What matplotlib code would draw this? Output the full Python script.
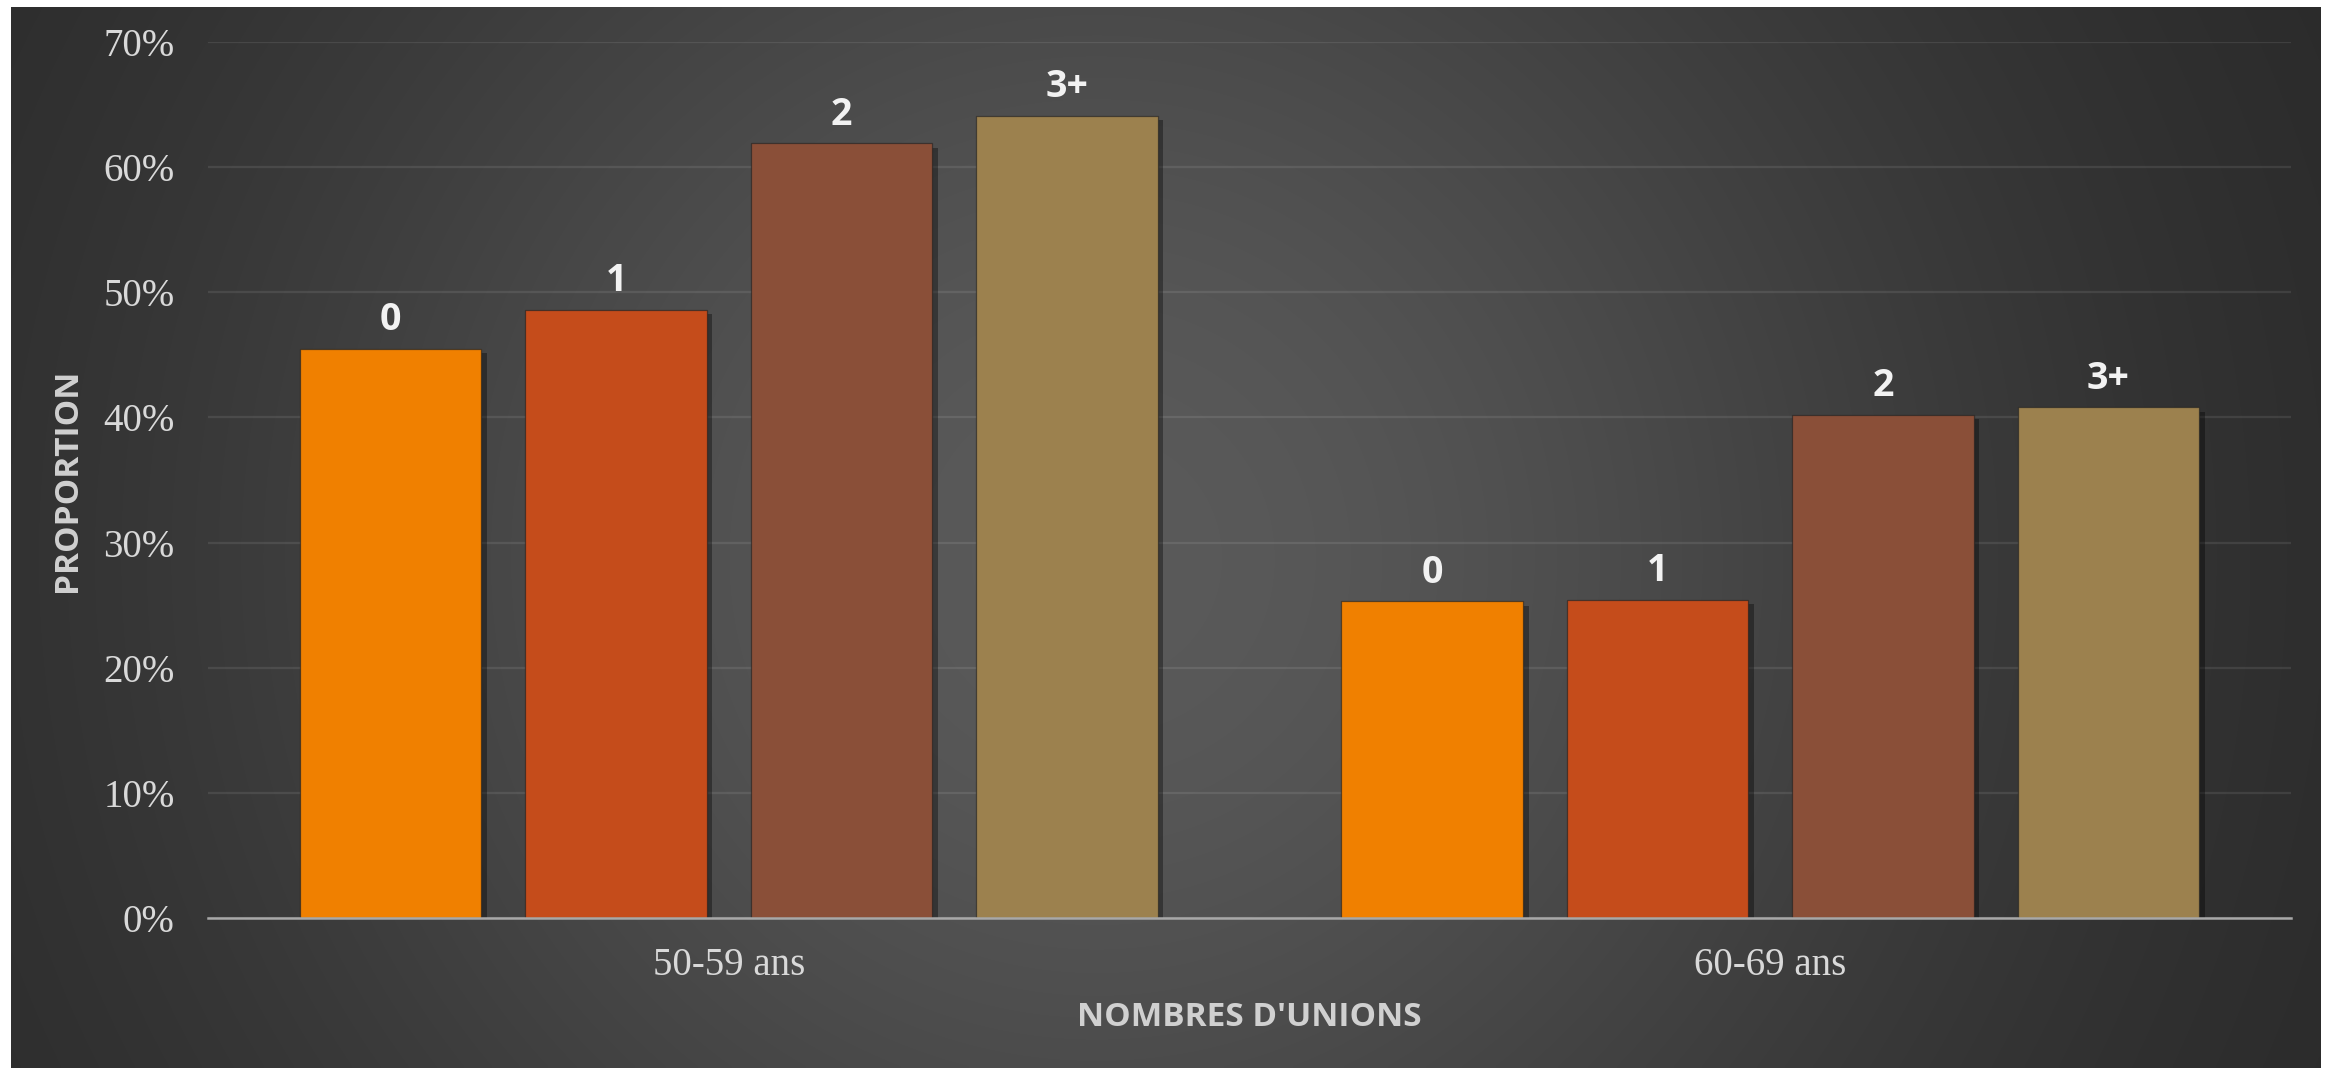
import numpy as np
import matplotlib
matplotlib.use("Agg")
import matplotlib.pyplot as plt
import matplotlib.patheffects as pe

# ---- data ----
age_groups = ["50-59 ans", "60-69 ans"]
union_labels = ["0", "1", "2", "3+"]
values_5059 = [45.5, 48.6, 61.9, 64.1]
values_6069 = [25.3, 25.4, 40.2, 40.8]
y_ticks = [0, 10, 20, 30, 40, 50, 60, 70]
y_tick_labels = ["0%", "10%", "20%", "30%", "40%", "50%", "60%", "70%"]
bar_colors = ["#F08000", "#C54C1B", "#8A4F38", "#9C814E"]

W, H = 2333, 1068
fig = plt.figure(figsize=(W / 100, H / 100), dpi=100, facecolor="white")

# ---- background panel with radial gradient ----
bx0, bx1, by_top = 11, 2321, 7
bg = fig.add_axes([bx0 / W, 0, (bx1 - bx0) / W, (H - by_top) / H], zorder=0)
nx, ny = 600, 280
xx, yy = np.meshgrid(np.linspace(0, bx1 - bx0, nx), np.linspace(0, H - by_top, ny))
cx, cy = (bx1 - bx0) * 0.47, (H - by_top) * 0.52
d = np.sqrt((xx - cx) ** 2 + (yy - cy) ** 2)
lum = 38 + 52 * np.exp(-(d / 900.0) ** 2)
img = np.dstack([lum, lum, lum]) / 255.0
bg.imshow(img, aspect="auto", interpolation="bilinear", origin="upper")
bg.set_axis_off()

# ---- main axes ----
ax_l, ax_r, ax_t, ax_b = 208, 2291, 42, 918
ax = fig.add_axes([ax_l / W, (H - ax_b) / H, (ax_r - ax_l) / W, (ax_b - ax_t) / H], zorder=1)
ax.patch.set_alpha(0)
ax.set_xlim(-0.5, 1.5)
ax.set_ylim(0, 70)

width = 0.1743
pitch = 0.2164
x_centers = np.arange(len(age_groups))
series = [values_5059, values_6069]

for gi, vals in enumerate(series):
    for bi, v in enumerate(vals):
        xpos = x_centers[gi] + (bi - 1.5) * pitch
        bar = ax.bar(xpos, v, width=width, color=bar_colors[bi],
                     edgecolor=(0.12, 0.12, 0.12, 0.6), linewidth=0.9, zorder=3)
        for p in bar.patches:
            p.set_path_effects([
                pe.SimplePatchShadow(offset=(4, -3), shadow_rgbFace="black", alpha=0.35),
                pe.Normal(),
            ])
        ax.annotate(union_labels[bi], (xpos, v), xytext=(0, 7), textcoords="offset points",
                    ha="center", va="bottom", color="#F2F2F2", fontsize=27,
                    fontweight="bold", family=["Open Sans", "DejaVu Sans"], zorder=5)

ax.set_yticks(y_ticks)
ax.set_yticklabels(y_tick_labels)
ax.set_xticks(x_centers)
ax.set_xticklabels(age_groups)

for s in ["top", "right", "left"]:
    ax.spines[s].set_visible(False)
ax.spines["bottom"].set_color("#A8A8A8")
ax.spines["bottom"].set_linewidth(1.8)
ax.spines["bottom"].set_zorder(4)

ax.tick_params(axis="both", length=0, labelcolor="#D9D9D9")
ax.tick_params(axis="y", pad=24)
ax.tick_params(axis="x", pad=21)
ax.set_axisbelow(True)
ax.grid(False)
ax.yaxis.grid(True, color="#FFFFFF", alpha=0.09, linewidth=1.6)
for lab in ax.get_yticklabels() + ax.get_xticklabels():
    lab.set_family(["Liberation Serif", "DejaVu Serif"])
    lab.set_fontsize(28)
    lab.set_color("#D9D9D9")

ax.set_ylabel("PROPORTION", fontsize=24, fontweight="bold", color="#D0D0D0",
              family=["Open Sans", "DejaVu Sans"], va="center", ha="center")
ax.yaxis.set_label_coords((67 - ax_l) / (ax_r - ax_l), 0.5)
ax.set_xlabel("NOMBRES D'UNIONS", fontsize=24, fontweight="bold", color="#D0D0D0",
              family=["Open Sans", "DejaVu Sans"], va="center", ha="center")
ax.xaxis.set_label_coords(0.5, -(1018 - ax_b) / (ax_b - ax_t))

fig.savefig("out.png", dpi=100, facecolor="white")
